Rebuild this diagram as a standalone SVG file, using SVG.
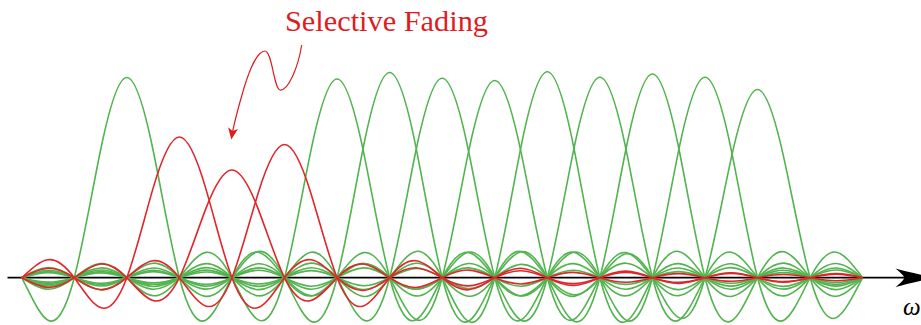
<svg xmlns="http://www.w3.org/2000/svg" xmlns:xlink="http://www.w3.org/1999/xlink" width="921" height="325" viewBox="0 0 921 325">
<style>
.sinc{fill:none;stroke-width:1.6;stroke-linejoin:round}
.g{stroke:#52b34f}
.r{stroke:#e0262a}
.title{font-family:"Liberation Serif","DejaVu Serif",serif;font-size:28.5px;fill:#e01b1f}
.omega{font-family:"Liberation Serif","DejaVu Serif",serif;font-style:italic;font-size:25px;fill:#000}
</style>
<defs>
<path id="sinc" vector-effect="non-scaling-stroke" d="M-16,0 C-15.8333,-10.4 -15.6667,-20.3 -15.5,-20.5 C-15.3333,-20.7 -15.1667,-11.1 -15,0 C-14.8333,11.1 -14.6667,21.7 -14.5,22 C-14.3333,22.2 -14.1667,11.9 -14,0 C-13.8333,-11.9 -13.6667,-23.3 -13.5,-23.6 C-13.3333,-23.9 -13.1667,-12.8 -13,0 C-12.8333,12.8 -12.6667,25.1 -12.5,25.5 C-12.3333,25.8 -12.1667,13.9 -12,0 C-11.8333,-13.9 -11.6667,-27.3 -11.5,-27.7 C-11.3333,-28.1 -11.1667,-15.2 -11,0 C-10.8333,15.2 -10.6667,29.8 -10.5,30.3 C-10.3333,30.8 -10.1667,16.7 -10,0 C-9.8333,-16.7 -9.6667,-32.9 -9.5,-33.5 C-9.3333,-34.1 -9.1667,-18.5 -9,0 C-8.8333,18.5 -8.6667,36.7 -8.5,37.4 C-8.3333,38.2 -8.1667,20.8 -8,0 C-7.8333,-20.8 -7.6667,-41.5 -7.5,-42.4 C-7.3333,-43.4 -7.1667,-23.8 -7,0 C-6.8333,23.8 -6.6667,47.7 -6.5,49 C-6.3333,50.3 -6.1667,27.8 -6,0 C-5.8333,-27.8 -5.6667,-56.1 -5.5,-57.9 C-5.3333,-59.6 -5.1667,-33.3 -5,0 C-4.8333,33.3 -4.6667,68.1 -4.5,70.7 C-4.3333,73.3 -4.1667,41.7 -4,0 C-3.8333,-41.7 -3.6667,-86.6 -3.5,-90.9 C-3.3333,-95.2 -3.1667,-55.6 -3,0 C-2.8333,55.6 -2.6667,118.8 -2.5,127.3 C-2.3333,135.8 -2.1667,83.3 -2,0 C-1.8333,-83.3 -1.6667,-188.6 -1.5,-212.2 C-1.3333,-235.8 -1.1667,-166.7 -1,0 C-0.8333,166.7 -0.6667,424.4 -0.5,636.6 C-0.3333,848.8 -0.1667,1000 0,1000 C0.1667,1000 0.3333,848.8 0.5,636.6 C0.6667,424.4 0.8333,166.7 1,0 C1.1667,-166.7 1.3333,-235.8 1.5,-212.2 C1.6667,-188.6 1.8333,-83.3 2,0 C2.1667,83.3 2.3333,135.8 2.5,127.3 C2.6667,118.8 2.8333,55.6 3,0 C3.1667,-55.6 3.3333,-95.2 3.5,-90.9 C3.6667,-86.6 3.8333,-41.7 4,0 C4.1667,41.7 4.3333,73.3 4.5,70.7 C4.6667,68.1 4.8333,33.3 5,0 C5.1667,-33.3 5.3333,-59.6 5.5,-57.9 C5.6667,-56.1 5.8333,-27.8 6,0 C6.1667,27.8 6.3333,50.3 6.5,49 C6.6667,47.7 6.8333,23.8 7,0 C7.1667,-23.8 7.3333,-43.4 7.5,-42.4 C7.6667,-41.5 7.8333,-20.8 8,0 C8.1667,20.8 8.3333,38.2 8.5,37.4 C8.6667,36.7 8.8333,18.5 9,0 C9.1667,-18.5 9.3333,-34.1 9.5,-33.5 C9.6667,-32.9 9.8333,-16.7 10,0 C10.1667,16.7 10.3333,30.8 10.5,30.3 C10.6667,29.8 10.8333,15.2 11,0 C11.1667,-15.2 11.3333,-28.1 11.5,-27.7 C11.6667,-27.3 11.8333,-13.9 12,0 C12.1667,13.9 12.3333,25.8 12.5,25.5 C12.6667,25.1 12.8333,12.8 13,0 C13.1667,-12.8 13.3333,-23.9 13.5,-23.6 C13.6667,-23.3 13.8333,-11.9 14,0 C14.1667,11.9 14.3333,22.2 14.5,22 C14.6667,21.7 14.8333,11.1 15,0 C15.1667,-11.1 15.3333,-20.7 15.5,-20.5 C15.6667,-20.3 15.8333,-10.4 16,0"/>
<clipPath id="span"><rect x="21.7" y="0" width="841" height="325"/></clipPath>
<marker id="redhead" markerUnits="userSpaceOnUse" markerWidth="14" markerHeight="14" refX="0" refY="0" orient="auto" overflow="visible">
<path d="M1.5,0 L-10,-5 L-7,0 L-10,5 Z" fill="#e01b1f"/>
</marker>
</defs>
<!-- axis -->
<g id="axis">
<line x1="7.5" y1="277.7" x2="905" y2="277.7" stroke="#000" stroke-width="1.8"/>
<path d="M936,277.7 C920,275 905,271 895.5,268.5 C900,272 903,275 904.5,277.7 C903,280.5 900,283.5 895.5,287 C905,284.5 920,280.5 936,277.7 Z" fill="#000"/>
<text class="omega" x="903" y="315">ω</text>
</g>
<!-- subcarriers -->
<g id="subcarriers" clip-path="url(#span)">
<use xlink:href="#sinc" class="sinc g" transform="translate(126.83,277.7) scale(52.5625,-0.2002)"/>
<use xlink:href="#sinc" class="sinc g" transform="translate(337.08,277.7) scale(52.5625,-0.1987)"/>
<use xlink:href="#sinc" class="sinc g" transform="translate(389.64,277.7) scale(52.5625,-0.2052)"/>
<use xlink:href="#sinc" class="sinc g" transform="translate(442.20,277.7) scale(52.5625,-0.1994)"/>
<use xlink:href="#sinc" class="sinc g" transform="translate(494.76,277.7) scale(52.5625,-0.1972)"/>
<use xlink:href="#sinc" class="sinc g" transform="translate(547.33,277.7) scale(52.5625,-0.2060)"/>
<use xlink:href="#sinc" class="sinc g" transform="translate(599.89,277.7) scale(52.5625,-0.2004)"/>
<use xlink:href="#sinc" class="sinc g" transform="translate(652.45,277.7) scale(52.5625,-0.2037)"/>
<use xlink:href="#sinc" class="sinc g" transform="translate(705.01,277.7) scale(52.5625,-0.2004)"/>
<use xlink:href="#sinc" class="sinc g" transform="translate(757.58,277.7) scale(52.5625,-0.1882)"/>
<use xlink:href="#sinc" class="sinc r" transform="translate(179.39,277.7) scale(52.5625,-0.1407)"/>
<use xlink:href="#sinc" class="sinc r" transform="translate(231.95,277.7) scale(52.5625,-0.1077)"/>
<use xlink:href="#sinc" class="sinc r" transform="translate(284.51,277.7) scale(52.5625,-0.1332)"/>
</g>
<!-- annotation -->
<g id="annotation">
<text class="title" x="285" y="30.5" textLength="203" lengthAdjust="spacingAndGlyphs">Selective Fading</text>
<path d="M301.7,45 C298,68 288,91 280,90 C274,89 272,51 265,51 C258,51 250,68 244,88 C239,105 234,122 231.5,138" fill="none" stroke="#e01b1f" stroke-width="1.2" marker-end="url(#redhead)"/>
</g>
</svg>
